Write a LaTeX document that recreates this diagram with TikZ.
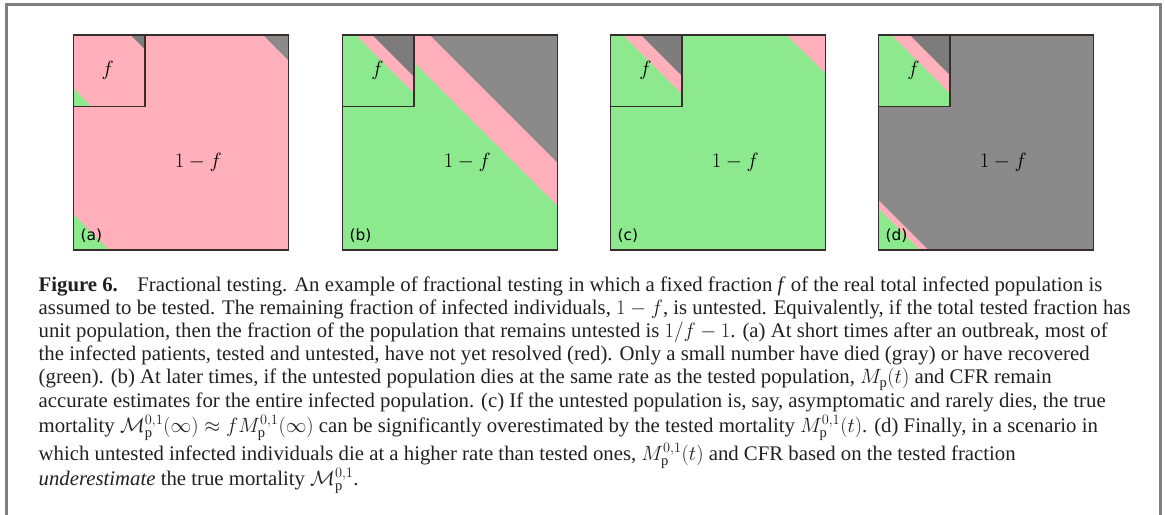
\documentclass[tikz,border=0pt]{standalone}
\usepackage{fontspec}
\setmainfont{Liberation Serif}
\newfontfamily\labfont{DejaVu Sans}
\definecolor{pk}{RGB}{255,176,187}
\definecolor{gr}{RGB}{141,233,141}
\definecolor{gyo}{RGB}{138,138,138}
\definecolor{gyi}{RGB}{124,124,124}
\definecolor{edgec}{RGB}{55,45,45}
\definecolor{framec}{RGB}{128,128,128}
\definecolor{txt}{RGB}{35,31,32}
\newlength\capw
\tikzset{
  panelbox/.style={draw=edgec, line width=1.1bp},
  plab/.style={font=\labfont\fontsize{15.5}{18}\selectfont, anchor=west, inner sep=0pt, text=black},
  mlab/.style={font=\fontsize{22.6}{27}\selectfont, inner sep=0pt, text=black},
  capline/.style={anchor=base west, inner sep=0pt, text=txt, font=\capfont},
}
\begin{document}
\settowidth\capw{\fontsize{10}{12}\selectfont assumed to be tested. The remaining fraction of infected individuals, $1-f$, is untested. Equivalently, if the total tested fraction has}
\pgfmathsetmacro\capfs{10*1097.3/\capw}
\xdef\capfs{\capfs}
\def\capfont{\fontsize{\capfs}{\capfs}\selectfont}
\begin{tikzpicture}[x=1bp,y=-1bp]
\useasboundingbox (0,0) rectangle (1165,515);
% frame
\draw[framec, line width=2.7bp] (6.8,530) -- (6.8,4.8) -- (1160.5,4.8) -- (1160.5,530);
% ---------- panel (a)
\begin{scope}[shift={(73.3bp,-35bp)}, x=71.667bp, y=-71.667bp]
  \fill[pk] (0,0) rectangle (3,3);
  \fill[gyo] (2.65,0) -- (3,0) -- (3,0.35) -- cycle;
  \fill[gr] (0,2.5) -- (0,3) -- (0.5,3) -- cycle;
  \draw[panelbox] (0,0) rectangle (3,3);
  \fill[pk] (0,0) rectangle (1,1);
  \fill[gyi] (0.8,0) -- (1,0) -- (1,0.2) -- cycle;
  \fill[gr] (0,0.744) -- (0,1) -- (0.256,1) -- cycle;
  \draw[panelbox] (0,0) rectangle (1,1);
  \node[mlab] (fa) at (0.48,0.5) {$f$};
  \node[mlab] (ra) at (1.744,1.779) {$1-f$};
  \node[plab] (la) at (0.098,2.805) {(a)};
\end{scope}
% ---------- panel (b)
\begin{scope}[shift={(342.3bp,-35bp)}, x=71.667bp, y=-71.667bp]
  \fill[gr] (0,0) rectangle (3,3);
  \fill[pk] (0.623,0) -- (3,0) -- (3,2.377) -- cycle;
  \fill[gyo] (1.223,0) -- (3,0) -- (3,1.777) -- cycle;
  \draw[panelbox] (0,0) rectangle (3,3);
  \fill[gr] (0,0) rectangle (1,1);
  \fill[pk] (0.19,0) -- (1,0) -- (1,0.81) -- cycle;
  \fill[gyi] (0.42,0) -- (1,0) -- (1,0.58) -- cycle;
  \draw[panelbox] (0,0) rectangle (1,1);
  \node[mlab] (fb) at (0.49,0.49) {$f$};
  \node[mlab] (rb) at (1.744,1.779) {$1-f$};
  \node[plab] (lb) at (0.098,2.805) {(b)};
\end{scope}
% ---------- panel (c)
\begin{scope}[shift={(610.3bp,-35bp)}, x=71.667bp, y=-71.667bp]
  \fill[gr] (0,0) rectangle (3,3);
  \fill[pk] (2.46,0) -- (3,0) -- (3,0.53) -- cycle;
  \draw[panelbox] (0,0) rectangle (3,3);
  \fill[gr] (0,0) rectangle (1,1);
  \fill[pk] (0.18,0) -- (1,0) -- (1,0.82) -- cycle;
  \fill[gyi] (0.43,0) -- (1,0) -- (1,0.57) -- cycle;
  \draw[panelbox] (0,0) rectangle (1,1);
  \node[mlab] (fc) at (0.49,0.49) {$f$};
  \node[mlab] (rc) at (1.744,1.779) {$1-f$};
  \node[plab] (lc) at (0.098,2.805) {(c)};
\end{scope}
% ---------- panel (d)
\begin{scope}[shift={(878.3bp,-35bp)}, x=71.667bp, y=-71.667bp]
  \fill[gyo] (0,0) rectangle (3,3);
  \fill[pk] (0,2.30) -- (0,3) -- (0.70,3) -- cycle;
  \fill[gr] (0,2.42) -- (0,3) -- (0.58,3) -- cycle;
  \draw[panelbox] (0,0) rectangle (3,3);
  \fill[gr] (0,0) rectangle (1,1);
  \fill[pk] (0.186,0) -- (1,0) -- (1,0.814) -- cycle;
  \fill[gyi] (0.44,0) -- (1,0) -- (1,0.56) -- cycle;
  \draw[panelbox] (0,0) rectangle (1,1);
  \node[mlab] (fd) at (0.49,0.49) {$f$};
  \node[mlab] (rd) at (1.744,1.779) {$1-f$};
  \node[plab] (ld) at (0.098,2.805) {(d)};
\end{scope}
% ---------- caption
\node[capline] (c1) at (38.5,292) {\textbf{Figure 6.}\hspace{0.6em} Fractional testing. An example of fractional testing in which a fixed fraction \textit{f} of the real total infected population is};
\node[capline] (c2) at (38.5,315) {assumed to be tested. The remaining fraction of infected individuals, $1-f$, is untested. Equivalently, if the total tested fraction has};
\node[capline] (c3) at (38.5,338) {unit population, then the fraction of the population that remains untested is $1/f-1$. (a) At short times after an outbreak, most of};
\node[capline] (c4) at (38.5,361) {the infected patients, tested and untested, have not yet resolved (red). Only a small number have died (gray) or have recovered};
\node[capline] (c5) at (38.5,384) {(green). (b) At later times, if the untested population dies at the same rate as the tested population, \smash{$M_{\mathrm{p}}(t)$} and CFR remain};
\node[capline] (c6) at (38.5,407) {accurate estimates for the entire infected population. (c) If the untested population is, say, asymptomatic and rarely dies, the true};
\node[capline] (c7) at (38.5,432) {mortality \smash{$\mathcal{M}_{\mathrm{p}}^{0,1}(\infty)\approx fM_{\mathrm{p}}^{0,1}(\infty)$} can be significantly overestimated by the tested mortality \smash{$M_{\mathrm{p}}^{0,1}(t)$}. (d) Finally, in a scenario in};
\node[capline] (c8) at (38.5,460) {which untested infected individuals die at a higher rate than tested ones, \smash{$M_{\mathrm{p}}^{0,1}(t)$} and CFR based on the tested fraction};
\node[capline] (c9) at (38.5,485) {\textit{underestimate} the true mortality \smash{$\mathcal{M}_{\mathrm{p}}^{0,1}$}.};
\end{tikzpicture}
\end{document}
